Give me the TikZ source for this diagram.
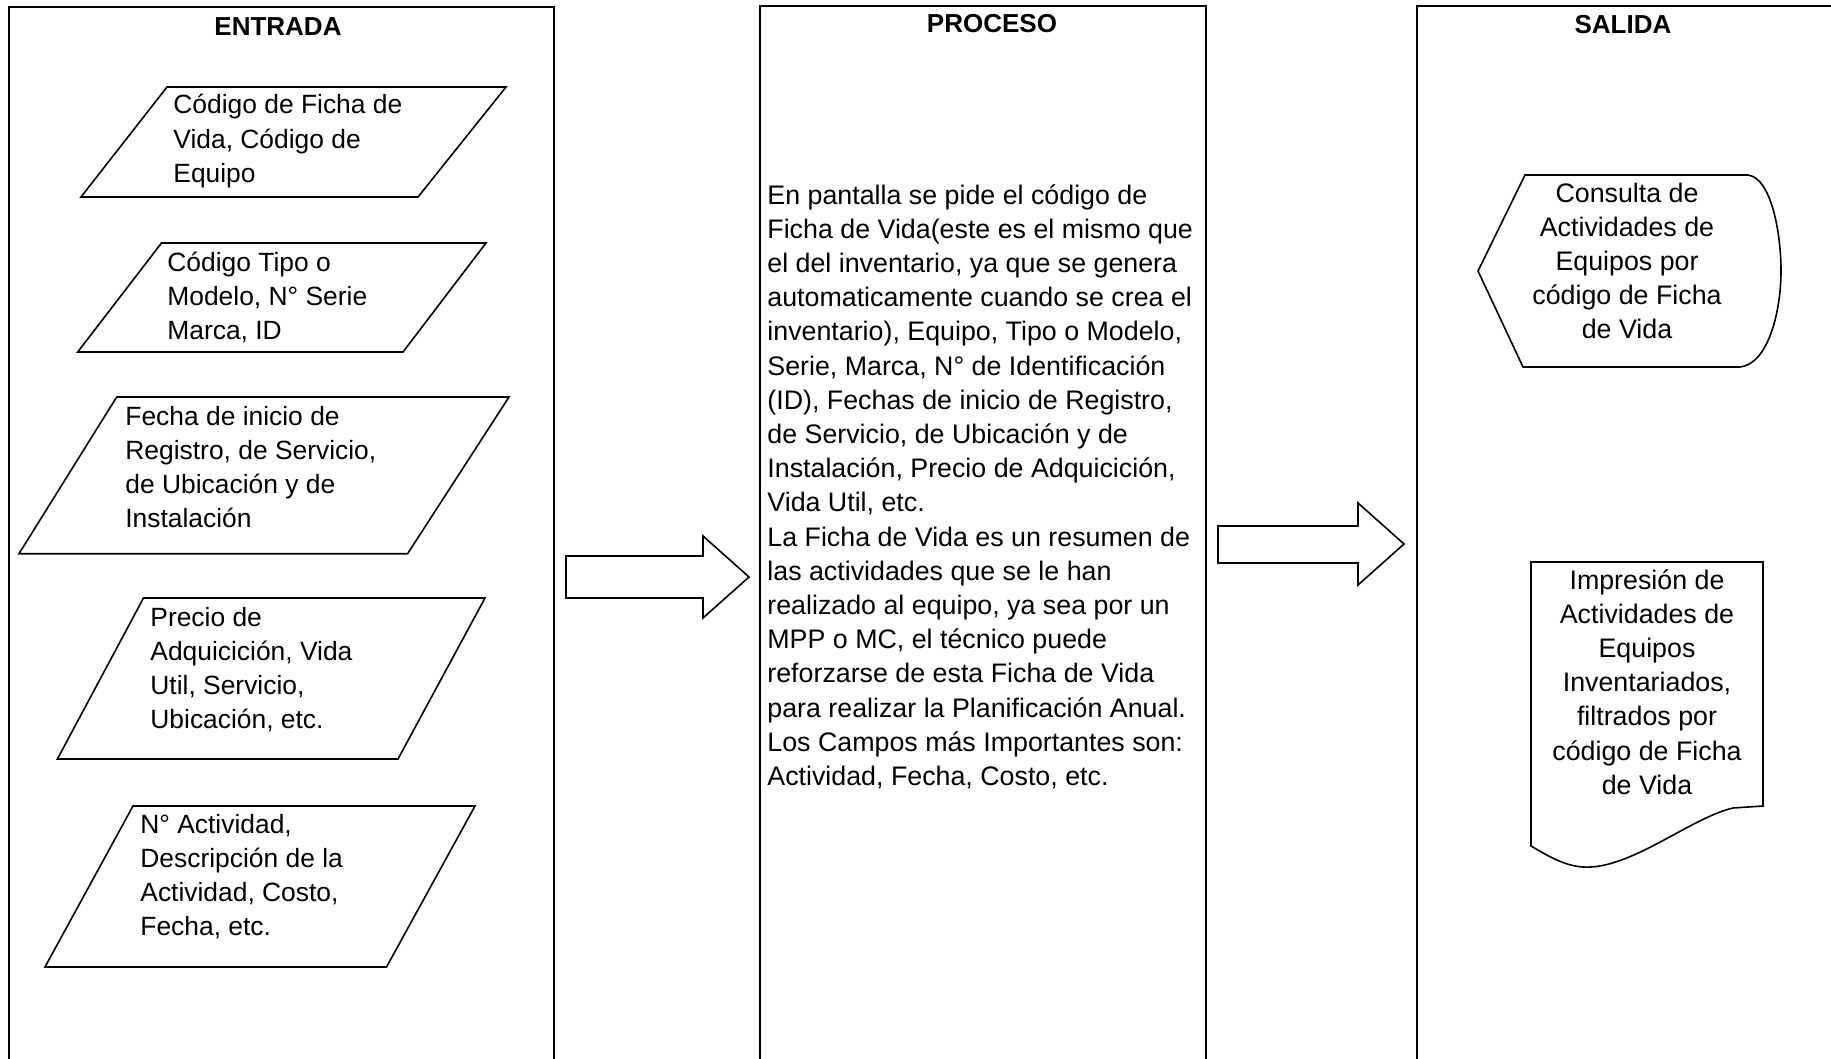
\documentclass[tikz,border=0pt]{standalone}
\usepackage{fontspec}
\setmainfont{Liberation Sans}
\usetikzlibrary{positioning, calc}

\begin{document}
\begin{tikzpicture}[
    x=0.5pt, y=-0.5pt,
    lane/.style={draw, line width=0.8pt, anchor=north west, inner sep=0pt,
                 minimum height=550pt},
    lanetitle/.style={font=\bfseries\fontsize{13}{15}\selectfont,
                      anchor=base, inner sep=0pt},
    intext/.style={font=\fontsize{13.2}{17.1}\selectfont, align=left,
                   anchor=base west, inner sep=0pt},
    outtext/.style={font=\fontsize{13.4}{17.1}\selectfont, align=center,
                    anchor=base, inner sep=0pt},
    shapeline/.style={draw, line width=0.8pt, line join=miter}
  ]
    \useasboundingbox (0,0) rectangle (1831,1059);
    \clip (0,0) rectangle (1831,1059);

    % lanes
    \node[lane, minimum width=272.5pt] (entrada) at (8,6) {};
    \node[lane, minimum width=223pt] (proceso) at (759,5) {};
    \node[lane, minimum width=260pt] (salida) at (1416,5) {};

    \node[lanetitle] (tEntrada) at ($(entrada.north west)+(270,29.5)$) {ENTRADA};
    \node[lanetitle] (tProceso) at ($(proceso.north west)+(233,28)$) {PROCESO};
    \node[lanetitle] (tSalida) at ($(salida.north west)+(207,29)$) {SALIDA};

    % entradas (base = baseline of the last line)
    \draw[shapeline] (167,87) -- (506,87) -- (418,197) -- (81,197) -- cycle;
    \node[intext] (in1) at (173,182.4) {Código de Ficha de\\Vida, Código de\\Equipo};

    \draw[shapeline] (161.5,243) -- (486,243) -- (403,352) -- (77.7,352) -- cycle;
    \node[intext] (in2) at (167,339.4) {Código Tipo o\\Modelo, N° Serie\\Marca, ID};

    \draw[shapeline] (116.7,397) -- (509,397) -- (407.6,553.7) -- (19,553.7) -- cycle;
    \node[intext] (in3) at (125,527.6)
      {Fecha de inicio de\\Registro, de Servicio,\\de Ubicación y de\\Instalación};

    \draw[shapeline] (143.5,598) -- (485,598) -- (398,759) -- (57.4,759) -- cycle;
    \node[intext] (in4) at (150,728.6)
      {Precio de\\Adquicición, Vida\\Util, Servicio,\\Ubicación, etc.};

    \draw[shapeline] (133,806) -- (475,806) -- (386.5,967) -- (45,967) -- cycle;
    \node[intext] (in5) at (140,935.6)
      {N° Actividad,\\Descripción de la\\Actividad, Costo,\\Fecha, etc.};

    % proceso
    \node[intext, font=\fontsize{13.4}{17.1}\selectfont] (desc) at (767,785.4)
      {En pantalla se pide el código de\\
       Ficha de Vida(este es el mismo que\\
       el del inventario, ya que se genera\\
       automaticamente cuando se crea el\\
       inventario), Equipo, Tipo o Modelo,\\
       Serie, Marca, N° de Identificación\\
       (ID), Fechas de inicio de Registro,\\
       de Servicio, de Ubicación y de\\
       Instalación, Precio de Adquicición,\\
       Vida Util, etc.\\
       La Ficha de Vida es un resumen de\\
       las actividades que se le han\\
       realizado al equipo, ya sea por un\\
       MPP o MC, el técnico puede\\
       reforzarse de esta Ficha de Vida\\
       para realizar la Planificación Anual.\\
       Los Campos más Importantes son:\\
       Actividad, Fecha, Costo, etc.};

    % flechas
    \draw[shapeline] (566,556) -- (703,556) -- (703,536) -- (749,577)
      -- (703,618) -- (703,598) -- (566,598) -- cycle;
    \draw[shapeline] (1218,526) -- (1358,526) -- (1358,503) -- (1404,544)
      -- (1358,585) -- (1358,563) -- (1218,563) -- cycle;

    % salidas
    \draw[shapeline] (1478,271) -- (1525,175) -- (1748,175)
      .. controls (1771,178) and (1781,232) .. (1781,271)
      .. controls (1781,312) and (1768,364) .. (1740,367)
      -- (1523,367) -- cycle;
    \node[outtext] (out1) at (1627,338.8)
      {Consulta de\\Actividades de\\Equipos por\\código de Ficha\\de Vida};

    \draw[shapeline] (1531,562) -- (1763,562) -- (1763,806) -- (1733,808)
      .. controls (1690,818) and (1630,870) .. (1583,867)
      .. controls (1565,866) and (1548,856) .. (1531,846) -- cycle;
    \node[outtext] (out2) at (1647,794.2)
      {Impresión de\\Actividades de\\Equipos\\Inventariados,\\filtrados por\\código de Ficha\\de Vida};
  \end{tikzpicture}
\end{document}
